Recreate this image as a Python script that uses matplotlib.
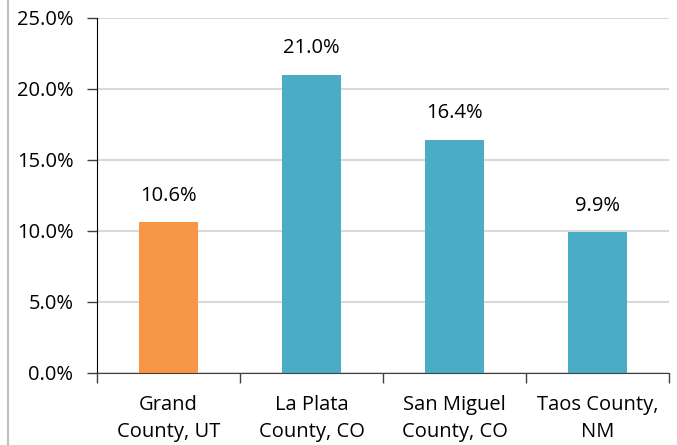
import matplotlib.pyplot as plt
from matplotlib.lines import Line2D
from matplotlib.ticker import FuncFormatter, FixedLocator

plt.rcParams["font.family"] = ["Open Sans", "DejaVu Sans"]

counties = ["Grand\nCounty, UT", "La Plata\nCounty, CO", "San Miguel\nCounty, CO", "Taos County,\nNM"]
shares = [10.6, 21.0, 16.4, 9.9]
bar_colours = ["#F79646", "#4BACC6", "#4BACC6", "#4BACC6"]

fig = plt.figure(figsize=(6.77, 4.45), dpi=100)
ax = fig.add_axes([0.1433, 0.1618, 0.8449, 0.7978])

x = range(len(counties))
ax.bar(x, shares, width=0.41, color=bar_colours, zorder=3)
for xi, v in zip(x, shares):
    ax.annotate(f"{v:.1f}%", (xi, v), xytext=(0, 12), textcoords="offset points",
                ha="center", va="bottom", fontsize=14.5)

ax.set_xlim(-0.5, len(counties) - 0.5)
ax.set_ylim(0, 25)
ax.set_yticks([0, 5, 10, 15, 20, 25])
ax.yaxis.set_major_formatter(FuncFormatter(lambda v, _: f"{v:.1f}%"))
ax.grid(axis="y", color="#D9D9D9", linewidth=1.5, zorder=0)

ax.set_xticks(list(x))
ax.set_xticklabels(counties, fontsize=14.5, linespacing=1.45)
ax.tick_params(axis="x", length=0, pad=16)
ax.xaxis.set_minor_locator(FixedLocator([i - 0.5 for i in range(len(counties) + 1)]))
ax.tick_params(axis="x", which="minor", length=7, width=1, color="#404040")
ax.tick_params(axis="y", length=7, width=1, color="#404040", labelsize=14.5, pad=10)

for side in ("top", "right"):
    ax.spines[side].set_visible(False)
ax.spines["left"].set_color("black")
ax.spines["bottom"].set_color("#404040")
ax.spines["bottom"].set_zorder(4)

# thin border at the left edge of the figure
fig.add_artist(Line2D([0.012, 0.012], [0, 1], color="#BFBFBF", linewidth=1.5,
                      transform=fig.transFigure))

fig.savefig("out.png", dpi=100)
